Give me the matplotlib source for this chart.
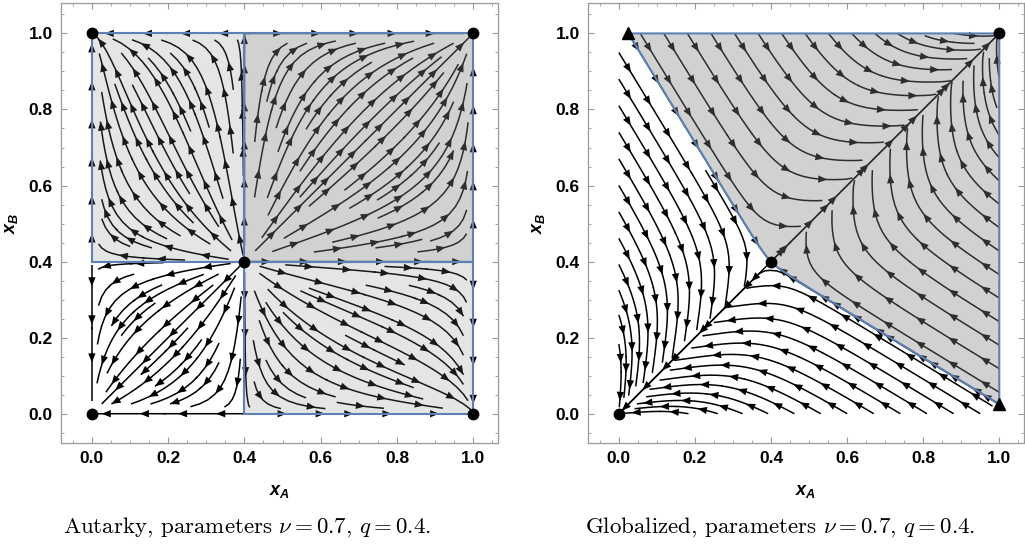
import numpy as np
import matplotlib
matplotlib.use("Agg")
import matplotlib.pyplot as plt
from matplotlib.patches import Polygon, Rectangle, FancyArrowPatch
from matplotlib.ticker import MultipleLocator

# Model parameters
nu = 0.7
q = 0.4

# Axis ticks
ticks = [0.0, 0.2, 0.4, 0.6, 0.8, 1.0]
tick_labels = ["0.0", "0.2", "0.4", "0.6", "0.8", "1.0"]

# Rest points
autarky_points = [(0.0, 0.0), (0.0, 1.0), (1.0, 0.0), (1.0, 1.0), (q, q)]
global_points = [(0.0, 0.0), (q, q), (1.0, 1.0)]

# Shape of the globalized flow (tilt of the basin boundary, rates)
TILT = 0.1215
ROUND = 0.05
RATE_DIAG = 1.2
REACH = 0.22
CATCH_UP = 1.6
RATE_CROSS = 1.0
RATE_LIN = 0.05

plt.rcParams["mathtext.fontset"] = "custom"
plt.rcParams["mathtext.it"] = "Liberation Sans:italic:bold"
plt.rcParams["mathtext.rm"] = "Liberation Sans:bold"
plt.rcParams["mathtext.bf"] = "Liberation Sans:bold"

FRAME = "#9a9a9a"
EDGE = "#5E81B5"
SHADE = (0.5, 0.5, 0.5, 0.2)
SHADE_DARK = (0.5, 0.5, 0.5, 0.36)


def autarky_field(X, Y):
    U = X * (1 - X) * (X - q)
    V = Y * (1 - Y) * (Y - q)
    return U, V


def tilt(w):
    return TILT * (np.sqrt(w ** 2 + ROUND ** 2) - ROUND)


def tilt_slope(w):
    return TILT * w / np.sqrt(w ** 2 + ROUND ** 2)


def global_field(X, Y):
    s = (X + Y) / 2
    w = Y - X
    p = s - tilt(w)
    dp = RATE_DIAG * p * (1 - p) * (p - q) / (1 + (w / REACH) ** 2)
    # the lagging country catches up (or the leading one falls back)
    dw = -(CATCH_UP * np.abs(dp) * np.sign(w)
           + RATE_CROSS * (w * np.abs(w) + RATE_LIN * w))
    ds = dp + tilt_slope(w) * dw
    return ds - dw / 2, ds + dw / 2


def add_arrows(ax, sset, spacing=0.1, offset=0.05, color="black", size=12):
    """Place arrowheads along each streamline at regular arc-length steps."""
    for pts in sset.lines.get_segments():
        pts = np.asarray(pts)
        if len(pts) < 3:
            continue
        d = np.hypot(np.diff(pts[:, 0]), np.diff(pts[:, 1]))
        L = d.sum()
        if L < 0.04:
            continue
        cum = np.concatenate([[0], np.cumsum(d)])
        first = min(offset, L / 2)
        for t in np.arange(first, L - 0.015, spacing):
            i = np.searchsorted(cum, t) - 1
            i = max(0, min(i, len(pts) - 2))
            a = pts[i]
            b = pts[i + 1]
            if np.allclose(a, b):
                continue
            ax.add_patch(FancyArrowPatch(a, b, arrowstyle="-|>,head_length=0.55,head_width=0.22",
                                         mutation_scale=size, color=color, lw=0,
                                         shrinkA=0, shrinkB=0, zorder=2))


def style_axes(ax):
    ax.set_xlim(-0.081, 1.065)
    ax.set_ylim(-0.077, 1.080)
    ax.set_xticks(ticks)
    ax.set_yticks(ticks)
    ax.set_xticklabels(tick_labels, fontfamily="Liberation Sans", fontweight="bold", fontsize=12.5)
    ax.set_yticklabels(tick_labels, fontfamily="Liberation Sans", fontweight="bold", fontsize=12.5)
    ax.xaxis.set_minor_locator(MultipleLocator(0.05))
    ax.yaxis.set_minor_locator(MultipleLocator(0.05))
    ax.tick_params(which="both", direction="in", top=True, right=True, color=FRAME, pad=6)
    ax.tick_params(which="major", length=4.5, width=0.8)
    ax.tick_params(which="minor", length=2.5, width=0.6)
    for sp in ax.spines.values():
        sp.set_color(FRAME)
        sp.set_linewidth(0.9)
    ax.set_xlabel("$x_A$", fontsize=13, labelpad=11)
    ax.set_ylabel("$x_B$", fontsize=13, labelpad=6)


fig = plt.figure(figsize=(10.25, 5.5), dpi=100)
ax1 = fig.add_axes([61 / 1025, 107 / 550, 437 / 1025, 440 / 550])
ax2 = fig.add_axes([588 / 1025, 107 / 550, 436 / 1025, 440 / 550])

g = np.linspace(0, 1, 201)
X, Y = np.meshgrid(g, g)

line_kw = dict(color="black", linewidth=1.1, arrowsize=0.01, arrowstyle="-", zorder=2)
eps = 0.006

# ---- Autarky ----
U, V = autarky_field(X, Y)
s1 = ax1.streamplot(g, g, U, V, density=1.35, maxlength=8.0, **line_kw)
add_arrows(ax1, s1)
ax1.add_patch(Rectangle((0, q), q, 1 - q, facecolor=SHADE, edgecolor="none", zorder=3))
ax1.add_patch(Rectangle((q, 0), 1 - q, q, facecolor=SHADE, edgecolor="none", zorder=3))
ax1.add_patch(Rectangle((q, q), 1 - q, 1 - q, facecolor=SHADE_DARK, edgecolor="none", zorder=3))
for x0, y0, wd, ht in [(0, q, q, 1 - q), (q, 0, 1 - q, q), (q, q, 1 - q, 1 - q)]:
    ax1.add_patch(Rectangle((x0, y0), wd, ht, fill=False, edgecolor=EDGE, lw=1.5, zorder=4))
ax1.plot([p[0] for p in autarky_points], [p[1] for p in autarky_points], "o",
         color="black", ms=7.5, zorder=6, clip_on=False)
style_axes(ax1)

# ---- Globalized ----
U, V = global_field(X, Y)
# the diagonal orbit through the saddle
s_diag = ax2.streamplot(g, g, U, V, start_points=[[0.2, 0.2], [0.7, 0.7]],
                        integration_direction="both", broken_streamlines=False,
                        color="black", linewidth=1.0, arrowsize=0.01, arrowstyle="-", zorder=2)
add_arrows(ax2, s_diag, spacing=0.15)

seeds = [[0.2, 0.2], [0.7, 0.7]]
for t in np.arange(0.1, 0.99, 0.07):
    seeds += [[eps, t], [t, eps]]
for t in np.arange(0.06, 0.97, 0.062):
    seeds += [[t, 1 - eps], [1 - eps, t]]
for t in np.arange(0.05, 0.35, 0.07):
    seeds += [[t, t + 0.12], [t + 0.12, t]]
s2 = ax2.streamplot(g, g, U, V, density=2.0, start_points=np.array(seeds),
                    integration_direction="both", broken_streamlines=True, maxlength=8.0,
                    **line_kw)
add_arrows(ax2, s2)

# basin boundary of (1,1): level set through the saddle
wv = np.linspace(0, 1.0, 2001)
y_edge = q + tilt(wv) + wv / 2
w_end = np.interp(1.0, y_edge, wv)
ws = np.linspace(-w_end, w_end, 401)
ss = q + tilt(ws)
bx = ss - ws / 2
by = ss + ws / 2
order = np.argsort(bx)
bx, by = bx[order], by[order]
poly = np.column_stack([np.concatenate([bx, [1.0]]), np.concatenate([by, [1.0]])])
ax2.add_patch(Polygon(poly, closed=True, facecolor=SHADE_DARK, edgecolor="none", zorder=3))
ax2.add_patch(Polygon(poly, closed=True, fill=False, edgecolor=EDGE, lw=1.5, zorder=4))
ax2.plot([p[0] for p in global_points], [p[1] for p in global_points], "o",
         color="black", ms=7.5, zorder=6, clip_on=False)
ax2.plot([bx[0], bx[-1]], [by[0], by[-1]], "^", color="black", ms=8.5, zorder=6, clip_on=False)
style_axes(ax2)

cap_kw = dict(ha="center", va="center", fontsize=16.5, fontfamily="cmr10", math_fontfamily="cm")
fig.text(247 / 1025, 1 - 527 / 550,
         r"Autarky, parameters $\nu = %s$, $q = %s$." % (nu, q), **cap_kw)
fig.text(780 / 1025, 1 - 527 / 550,
         r"Globalized, parameters $\nu = %s$, $q = %s$." % (nu, q), **cap_kw)

fig.savefig("out.png", dpi=100)
